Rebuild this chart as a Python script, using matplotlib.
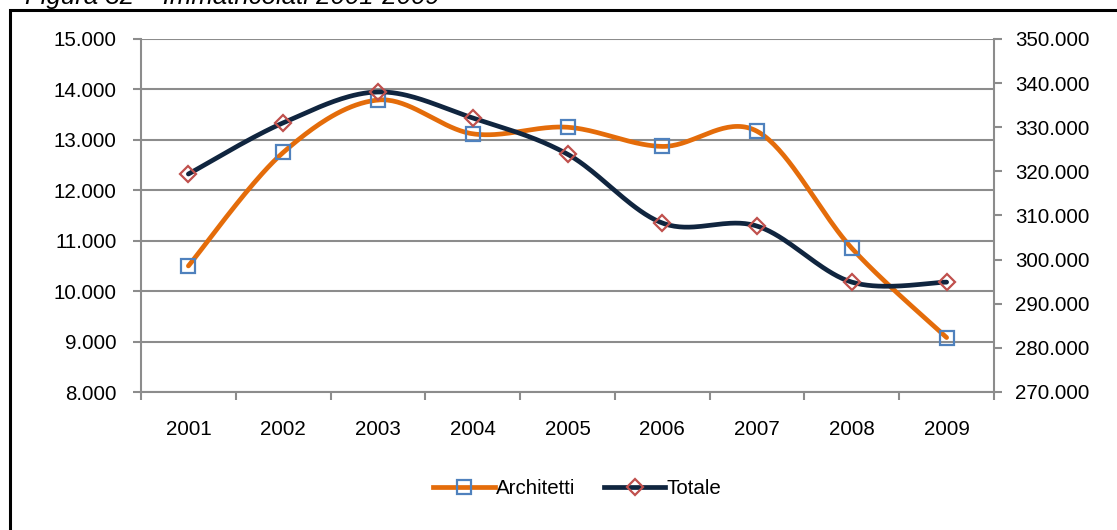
import numpy as np
import matplotlib
matplotlib.use("Agg")
import matplotlib.pyplot as plt
from matplotlib.lines import Line2D
from matplotlib.patches import Rectangle
from matplotlib.ticker import FuncFormatter, MultipleLocator

plt.rcParams['font.family'] = ['Liberation Sans', 'DejaVu Sans']

# Immatricolati per anno
anni = ['2001', '2002', '2003', '2004', '2005', '2006', '2007', '2008', '2009']
architetti = [10500, 12750, 13790, 13120, 13250, 12870, 13170, 10850, 9080]
totale = [319400, 331000, 338000, 332100, 323900, 308300, 307600, 294900, 294900]

ORANGE = '#E46C0A'
NAVY = '#10253F'
BLUE = '#4F81BD'
RED = '#C0504D'
GRID = '#8C8C8C'
FS = 14.8


def smooth(xs, ys, n=40):
    # Catmull-Rom style bezier between consecutive points (Excel "smoothed line")
    xs = np.asarray(xs, float)
    ys = np.asarray(ys, float)
    px = np.concatenate([[xs[0]], xs, [xs[-1]]])
    py = np.concatenate([[ys[0]], ys, [ys[-1]]])
    outx, outy = [], []
    t = np.linspace(0, 1, n)
    for i in range(1, len(px) - 2):
        p0 = np.array([px[i], py[i]])
        p3 = np.array([px[i + 1], py[i + 1]])
        p1 = p0 + (np.array([px[i + 1], py[i + 1]]) - np.array([px[i - 1], py[i - 1]])) / 6
        p2 = p3 - (np.array([px[i + 2], py[i + 2]]) - np.array([px[i], py[i]])) / 6
        b = ((1 - t) ** 3)[:, None] * p0 + (3 * (1 - t) ** 2 * t)[:, None] * p1 \
            + (3 * (1 - t) * t ** 2)[:, None] * p2 + (t ** 3)[:, None] * p3
        outx.extend(b[:, 0])
        outy.extend(b[:, 1])
    return np.array(outx), np.array(outy)


def migliaia(v, pos):
    return f"{int(round(v)):,}".replace(',', '.')


fig = plt.figure(figsize=(11.17, 5.30), dpi=100)
ax = fig.add_axes([141 / 1117, 1 - 392 / 530, 853 / 1117, 353 / 530])
ax2 = ax.twinx()

x = np.arange(len(anni))

sx, sy = smooth(x, architetti)
ax.plot(sx, sy, color=ORANGE, lw=3.4, solid_capstyle='round', zorder=3)
ax.plot(x, architetti, ls='none', marker='s', ms=10, mfc='none', mec=BLUE, mew=1.6, zorder=4)

tx, ty = smooth(x, totale)
ax2.plot(tx, ty, color=NAVY, lw=3.4, solid_capstyle='round', zorder=3)
ax2.plot(x, totale, ls='none', marker='D', ms=8.5, mfc='none', mec=RED, mew=1.6, zorder=4)

ax.set_xlim(-0.5, len(anni) - 0.5)
ax.set_ylim(8000, 15000)
ax2.set_ylim(270000, 350000)
ax.yaxis.set_major_locator(MultipleLocator(1000))
ax2.yaxis.set_major_locator(MultipleLocator(10000))
ax.yaxis.set_major_formatter(FuncFormatter(migliaia))
ax2.yaxis.set_major_formatter(FuncFormatter(migliaia))

ax.set_xticks(x)
ax.set_xticklabels(anni)
ax.set_xticks(np.arange(-0.5, len(anni)), minor=True)
ax.tick_params(axis='x', which='major', length=0, pad=20, labelsize=FS)
ax.tick_params(axis='x', which='minor', length=6, width=1.5, color=GRID, direction='out')
ax.tick_params(axis='y', length=6, width=1.5, color=GRID, direction='out', pad=11.5, labelsize=FS)
ax2.tick_params(axis='y', length=6, width=1.5, color=GRID, direction='out', pad=9, labelsize=FS)

ax.grid(axis='y', color=GRID, lw=1.5)
ax.set_axisbelow(True)
for a in (ax, ax2):
    a.spines['top'].set_visible(False)
    for side in ('left', 'right', 'bottom'):
        a.spines[side].set_color(GRID)
        a.spines[side].set_linewidth(1.5)
ax.spines['right'].set_visible(False)
ax2.spines['left'].set_visible(False)
ax2.spines['bottom'].set_visible(False)

handles = [
    Line2D([], [], color=ORANGE, lw=3.4, marker='s', ms=10, mfc='none', mec=BLUE, mew=1.6),
    Line2D([], [], color=NAVY, lw=3.4, marker='D', ms=8.5, mfc='none', mec=RED, mew=1.6),
]
fig.legend(handles, ['Architetti', 'Totale'], loc='center', bbox_to_anchor=(577 / 1117, 1 - 489 / 530),
           ncol=2, frameon=False, fontsize=FS, handlelength=3.0, handletextpad=0.05, columnspacing=1.4)

fig.add_artist(Rectangle((10 / 1117, -0.1), 1.2, 1 - 10 / 530 + 0.1, transform=fig.transFigure,
                         fill=False, ec='black', lw=2.2))
fig.text(25 / 1117, 1 - 4 / 530, 'Figura 32 – Immatricolati 2001-2009', fontsize=18.5,
         style='italic', va='baseline', ha='left')

fig.savefig('out.png', dpi=100)
